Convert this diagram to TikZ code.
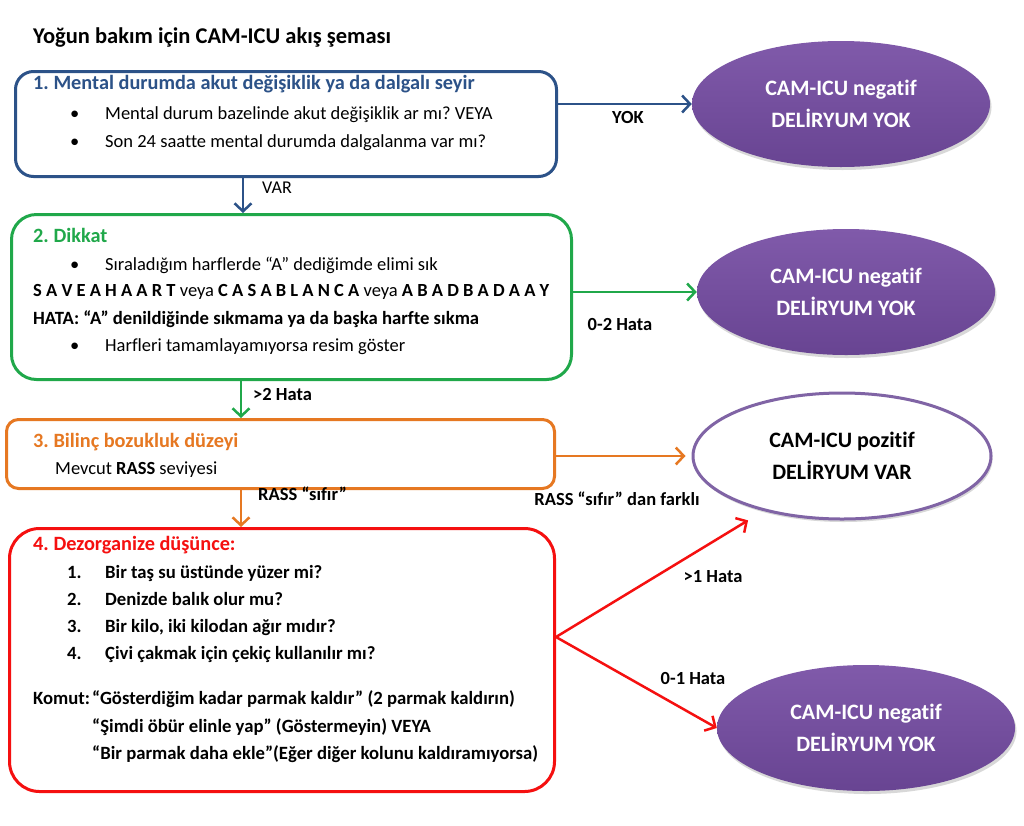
\documentclass[tikz,border=0pt]{standalone}
\usepackage{fontspec}
\setmainfont[Ligatures=NoCommon]{Carlito}
\usetikzlibrary{arrows.meta,shapes.geometric,shadows,calc}
\frenchspacing
\definecolor{cblue}{RGB}{44,82,136}
\definecolor{cgreen}{RGB}{32,168,74}
\definecolor{corange}{RGB}{230,120,34}
\definecolor{cred}{RGB}{245,16,16}
\definecolor{ptop}{RGB}{128,90,170}
\definecolor{pbot}{RGB}{104,68,146}
\definecolor{pline}{RGB}{128,100,165}
\tikzset{
 stepbox/.style={draw, line width=3pt, rectangle, anchor=north west, inner sep=0pt},
 txt/.style={anchor=mid west, inner sep=0pt, font=\fontsize{18.5}{22}\selectfont},
 btxt/.style={anchor=mid west, inner sep=0pt, font=\fontsize{18.7}{22}\selectfont\bfseries},
 ttl/.style={anchor=mid west, inner sep=0pt, font=\fontsize{20.3}{24}\selectfont\bfseries},
 lbl/.style={inner sep=0pt, font=\fontsize{18.5}{22}\selectfont\bfseries},
 arr/.style={line width=2.5pt, -{Straight Barb[length=8pt,width=17pt]}},
 outcome/.style={ellipse, minimum width=298pt, minimum height=126pt, inner sep=0pt, align=center,
   font=\fontsize{22}{32}\selectfont\bfseries,
   drop shadow={shadow xshift=1.5pt, shadow yshift=-3pt, opacity=0.25, fill=black!60}},
 negout/.style={outcome, top color=ptop, bottom color=pbot, text=white},
 posout/.style={outcome, fill=white, draw=pline, line width=3pt, text=black},
}
\begin{document}
\begin{tikzpicture}[x=1pt,y=-1pt]
\useasboundingbox (0,0) rectangle (1024,825);
\fill[white] (0,0) rectangle (1024,825);

% title
\node[anchor=mid west, inner sep=0pt, font=\fontsize{22.5}{26}\selectfont\bfseries] (title) at (33,41) {Yoğun bakım için CAM-ICU akış şeması};

% boxes
\node[stepbox, draw=cblue, rounded corners=18pt, minimum width=541pt, minimum height=105pt] (b1) at (14,70) {};
\node[stepbox, draw=cgreen, rounded corners=25pt, minimum width=560pt, minimum height=165pt] (b2) at (10,213) {};
\node[stepbox, draw=corange, rounded corners=12pt, minimum width=548pt, minimum height=69pt] (b3) at (5,418) {};
\node[stepbox, draw=cred, rounded corners=30pt, minimum width=545pt, minimum height=263pt] (b4) at (8,527) {};

% outcomes
\node[negout] (e1) at (841,104) {CAM-ICU negatif\\DELİRYUM YOK};
\node[negout] (e2) at (846,292) {CAM-ICU negatif\\DELİRYUM YOK};
\node[posout] (e3) at (842,456) {CAM-ICU pozitif\\DELİRYUM VAR};
\node[negout] (e4) at (866,728) {CAM-ICU negatif\\DELİRYUM YOK};

% box 1 text
\node[ttl, text=cblue] (t1) at (33,87) {1. Mental durumda akut değişiklik ya da dalgalı seyir};
\node[txt] (t1b1) at (70,117) {•};
\node[txt] (t1l1) at (105,117) {Mental durum bazelinde akut değişiklik ar mı? VEYA};
\node[txt] (t1b2) at (70,145) {•};
\node[txt] (t1l2) at (105,145) {Son 24 saatte mental durumda dalgalanma var mı?};

% box 2 text
\node[ttl, text=cgreen] (t2) at (33,240) {2. Dikkat};
\node[txt] (t2b1) at (70,268) {•};
\node[txt] (t2l1) at (105,268) {Sıraladığım harflerde “A” dediğimde elimi sık};
\node[txt] (t2l2) at (33,294) {\textbf{S A V E A H A A R T} veya \textbf{C A S A B L A N C A} veya \textbf{A B A D B A D A A Y}};
\node[btxt] (t2l3) at (33,322) {HATA: “A” denildiğinde sıkmama ya da başka harfte sıkma};
\node[txt] (t2b2) at (70,349) {•};
\node[txt] (t2l4) at (105,349) {Harfleri tamamlayamıyorsa resim göster};

% box 3 text
\node[ttl, text=corange] (t3) at (33,445) {3. Bilinç bozukluk düzeyi};
\node[txt] (t3l1) at (55,472) {Mevcut \textbf{RASS} seviyesi};

% box 4 text
\node[ttl, text=cred] (t4) at (33,548) {4. Dezorganize düşünce:};
\node[btxt] (t4n1) at (67,576) {1.};
\node[btxt] (t4q1) at (105,576) {Bir taş su üstünde yüzer mi?};
\node[btxt] (t4n2) at (67,603) {2.};
\node[btxt] (t4q2) at (105,603) {Denizde balık olur mu?};
\node[btxt] (t4n3) at (67,630) {3.};
\node[btxt] (t4q3) at (105,630) {Bir kilo, iki kilodan ağır mıdır?};
\node[btxt] (t4n4) at (67,657) {4.};
\node[btxt] (t4q4) at (105,657) {Çivi çakmak için çekiç kullanılır mı?};
\node[btxt] (t4k) at (33,702) {Komut:};
\node[btxt] (t4k1) at (92,702) {“Gösterdiğim kadar parmak kaldır” (2 parmak kaldırın)};
\node[btxt] (t4k2) at (92,730) {“Şimdi öbür elinle yap” (Göstermeyin) VEYA};
\node[btxt] (t4k3) at (92,757) {“Bir parmak daha ekle”(Eğer diğer kolunu kaldıramıyorsa)};

% connectors
\coordinate (xa) at (243,0);
\coordinate (xb) at (241,0);
\coordinate (yr) at (0,637);
\draw[arr, draw=cblue] (b1.south -| xa) -- (b2.north -| xa);
\draw[arr, draw=cblue] (b1.east |- e1.west) -- (e1.west);
\draw[arr, draw=cgreen] (b2.south -| xb) -- (b3.north -| xb);
\draw[arr, draw=cgreen] (b2.east |- e2.west) -- (e2.west);
\draw[arr, draw=corange] (b3.south -| xb) -- (b4.north -| xb);
\draw[arr, draw=corange] (b3.east |- e3.west) -- ([xshift=-6pt]e3.west);
\draw[arr, draw=cred, shorten >=18pt] (b4.east |- yr) -- (e3.215);
\draw[arr, draw=cred] (b4.east |- yr) -- (e4.west);

% labels
\node[anchor=mid west, inner sep=0pt, font=\fontsize{18}{21}\selectfont] (lvar) at (262,191) {VAR};
\node[lbl] (lyok) at (628,117) {YOK};
\node[lbl] (l02) at (620,324) {0-2 Hata};
\node[lbl, anchor=mid west] (lgt2) at (253,398) {>2 Hata};
\node[lbl, anchor=mid west] (lrass) at (258,498) {RASS “sıfır”};
\node[lbl] (lrassf) at (617,499) {RASS “sıfır” dan farklı};
\node[lbl] (lgt1) at (713,577) {>1 Hata};
\node[lbl] (l01) at (693,678) {0-1 Hata};
\end{tikzpicture}
\end{document}
